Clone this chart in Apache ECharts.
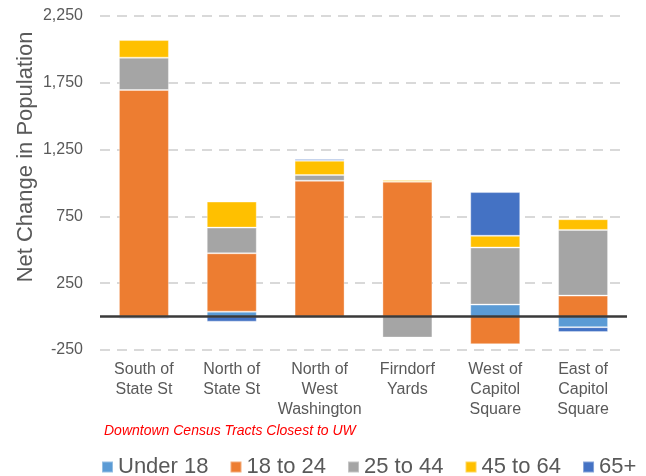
<!DOCTYPE html>
<html>
<head>
    <meta charset="utf-8">
    <script src="https://cdn.jsdelivr.net/npm/echarts@6/dist/echarts.min.js"></script>
</head>
<body style="margin:0">
<div id="main" style="width:646px;height:476px;"></div>
<script type="text/javascript">
    // tracts along the x axis
    var tracts = ['South of\nState St', 'North of\nState St', 'North of\nWest\nWashington',
        'Firndorf\nYards', 'West of\nCapitol\nSquare', 'East of\nCapitol\nSquare'];

    // net change per age group, one value per tract
    var under18 = [-6, 37, 0, 0, 90, -79];
    var age18to24 = [1696, 437, 1017, 1010, -207, 157];
    var age25to44 = [242, 192, 43, -157, 427, 492];
    var age45to64 = [132, 195, 107, 13, 88, 80];
    var age65plus = [-10, -38, 13, -4, 327, -37];

    var yTicks = {min: -250, max: 2250, step: 500};

    var font = "'Liberation Sans', Arial, sans-serif";
    var grey = '#595959';

    function bar(name, data, color) {
        return {
            name: name,
            type: 'bar',
            stack: 'total',
            data: data,
            barWidth: 50,
            itemStyle: {color: color, borderColor: 'rgba(255,255,255,0.35)', borderWidth: 1}
        };
    }

    var series = [
        bar('Under 18', under18, '#5B9BD5'),
        bar('18 to 24', age18to24, '#ED7D31'),
        bar('25 to 44', age25to44, '#A5A5A5'),
        bar('45 to 64', age45to64, '#FFC000'),
        bar('65+', age65plus, '#4472C4')
    ];
    // dark line at zero
    series[4].markLine = {
        silent: true,
        symbol: 'none',
        label: {show: false},
        lineStyle: {color: '#3a3a3a', width: 2.5, type: 'solid'},
        data: [{yAxis: 0}]
    };

    var myChart = echarts.init(document.getElementById('main'));
    myChart.setOption({
        animation: false,
        grid: {left: 100, right: 19, top: 16, bottom: 126},
        legend: {
            left: 101,
            top: 456,
            padding: 0,
            itemGap: 21,
            icon: 'rect',
            itemWidth: 11,
            itemHeight: 11,
            textStyle: {fontSize: 22, color: grey, fontFamily: font}
        },
        xAxis: {
            type: 'category',
            data: tracts,
            axisLine: {show: false},
            axisTick: {show: false},
            axisLabel: {
                margin: 10,
                fontSize: 16,
                lineHeight: 20,
                color: grey,
                fontFamily: font,
                interval: 0
            }
        },
        yAxis: {
            type: 'value',
            min: yTicks.min,
            max: yTicks.max,
            interval: yTicks.step,
            axisLine: {show: false},
            axisTick: {show: false},
            axisLabel: {
                margin: 17,
                fontSize: 16,
                color: grey,
                fontFamily: font,
                formatter: function (v) {
                    return v.toLocaleString('en-US');
                }
            },
            splitLine: {lineStyle: {color: '#D9D9D9', width: 2, type: [10, 7]}}
        },
        graphic: [
            {
                type: 'text',
                x: 26,
                y: 157,
                rotation: Math.PI / 2,
                style: {
                    text: 'Net Change in Population',
                    fontSize: 22,
                    fontFamily: font,
                    fill: grey,
                    align: 'center',
                    verticalAlign: 'middle'
                }
            },
            {
                type: 'text',
                x: 104,
                y: 431,
                style: {
                    text: 'Downtown Census Tracts Closest to UW',
                    fontSize: 14,
                    fontStyle: 'italic',
                    fontFamily: font,
                    fill: '#FF0000',
                    verticalAlign: 'middle'
                }
            }
        ],
        series: series
    });
</script>
</body>
</html>
